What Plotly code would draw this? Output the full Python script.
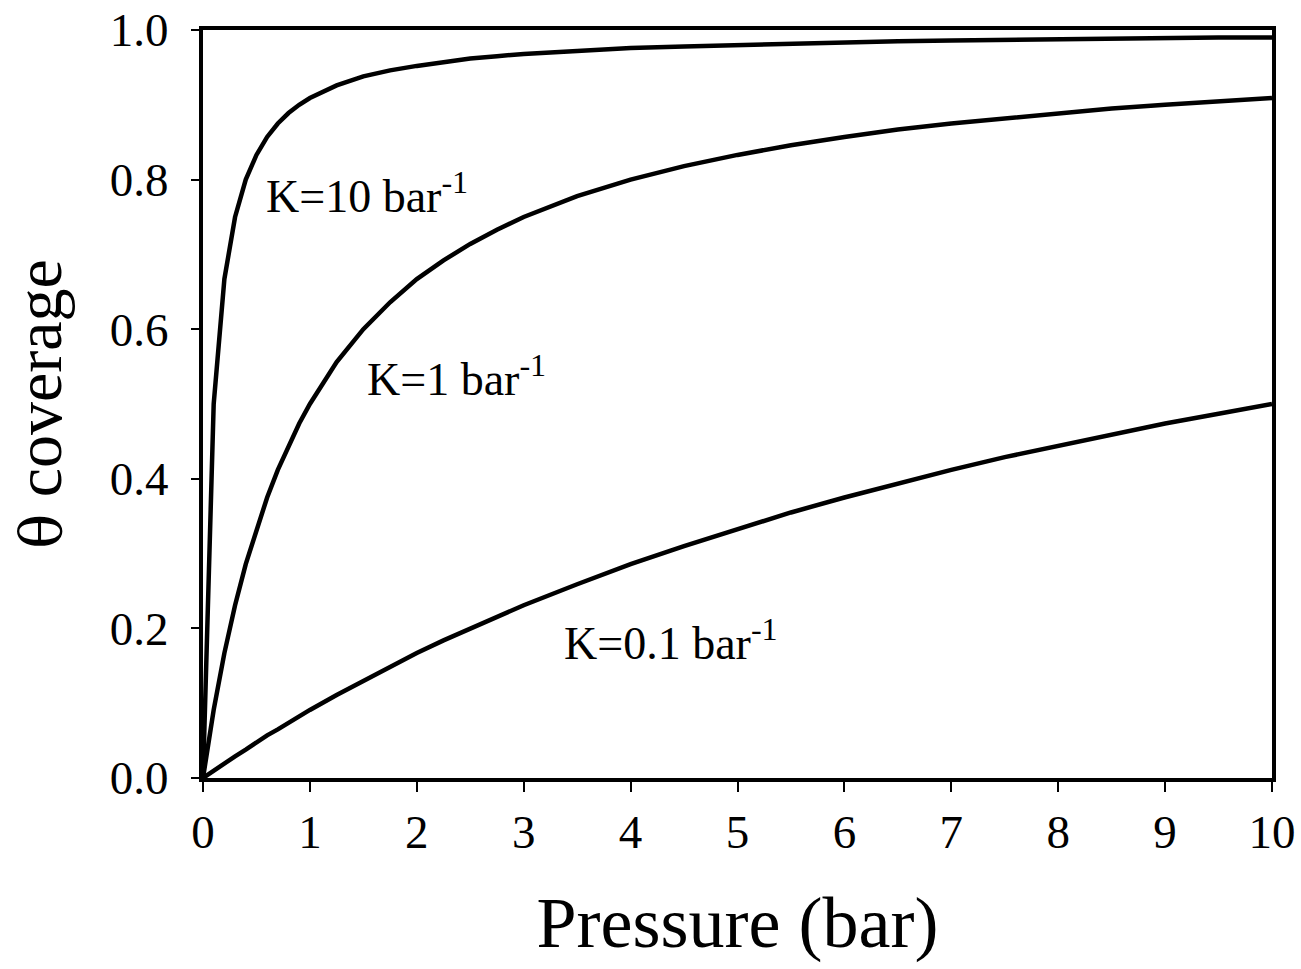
import plotly.graph_objects as go

# Pressure (bar) sample points
pressure = [0, 0.1, 0.2, 0.3, 0.4, 0.5, 0.6, 0.7, 0.8, 0.9, 1.0,
            1.25, 1.5, 1.75, 2.0, 2.25, 2.5, 2.75, 3.0,
            3.5, 4.0, 4.5, 5.0, 5.5, 6.0, 6.5, 7.0, 7.5, 8.0, 8.5, 9.0, 9.5, 10.0]

# Coverage values
theta_k10 = [0, 0.500, 0.667, 0.750, 0.800, 0.833, 0.857, 0.875, 0.889, 0.900, 0.909,
             0.926, 0.938, 0.946, 0.952, 0.957, 0.962, 0.965, 0.968,
             0.972, 0.976, 0.978, 0.980, 0.982, 0.984, 0.985, 0.986, 0.987, 0.988, 0.988, 0.989, 0.990, 0.990]
theta_k1 = [0, 0.091, 0.167, 0.231, 0.286, 0.333, 0.375, 0.412, 0.444, 0.474, 0.500,
            0.556, 0.600, 0.636, 0.667, 0.692, 0.714, 0.733, 0.750,
            0.778, 0.800, 0.818, 0.833, 0.846, 0.857, 0.867, 0.875, 0.882, 0.889, 0.895, 0.900, 0.905, 0.909]
theta_k01 = [0, 0.010, 0.020, 0.029, 0.038, 0.048, 0.057, 0.065, 0.074, 0.083, 0.091,
             0.111, 0.130, 0.149, 0.167, 0.184, 0.200, 0.216, 0.231,
             0.259, 0.286, 0.310, 0.333, 0.355, 0.375, 0.394, 0.412, 0.429, 0.444, 0.459, 0.474, 0.487, 0.500]

labels = ["K=10 bar<sup>-1</sup>", "K=1 bar<sup>-1</sup>", "K=0.1 bar<sup>-1</sup>"]
label_x = [0.57, 1.52, 3.36]
label_y = [0.782, 0.537, 0.184]

x_ticks = [0, 1, 2, 3, 4, 5, 6, 7, 8, 9, 10]
y_ticks = [0.0, 0.2, 0.4, 0.6, 0.8, 1.0]
y_ticktext = ["0.0", "0.2", "0.4", "0.6", "0.8", "1.0"]

FONT = "Liberation Serif"

fig = go.Figure()
for name, ys in zip(["K=10", "K=1", "K=0.1"], [theta_k10, theta_k1, theta_k01]):
    fig.add_trace(go.Scatter(x=pressure, y=ys, mode="lines", name=name,
                             line=dict(color="black", width=4.5), showlegend=False))

for t, xx, yy in zip(labels, label_x, label_y):
    fig.add_annotation(x=xx, y=yy, text=t, showarrow=False, xanchor="left", yanchor="middle",
                       font=dict(family=FONT, size=46, color="black"))

fig.update_layout(
    width=1301, height=969,
    margin=dict(l=203, r=29, t=30, b=191),
    plot_bgcolor="white", paper_bgcolor="white",
    font=dict(family=FONT, color="black"),
)
fig.update_xaxes(range=[0, 10], tickvals=x_ticks, ticks="outside", ticklen=10, tickwidth=2,
                 tickcolor="black", showline=True, linecolor="black", linewidth=4, mirror=True,
                 showgrid=False, zeroline=False, tickfont=dict(family=FONT, size=47),
                 automargin=False,
                 title=dict(text="Pressure (bar)", font=dict(family=FONT, size=72), standoff=40))
fig.update_yaxes(range=[0, 1.0], tickvals=y_ticks, ticktext=y_ticktext, ticks="outside", ticklen=8,
                 tickwidth=2, tickcolor="black", showline=True, linecolor="black", linewidth=4,
                 mirror=True, showgrid=False, zeroline=False, tickfont=dict(family=FONT, size=47),
                 ticklabelstandoff=13, automargin=False,
                 title=dict(text="<span style='font-family:DejaVu Serif;font-size:58px'>θ</span> coverage\u00a0\u00a0",
                            font=dict(family=FONT, size=66), standoff=28))

fig.write_html("out.html", config={"displayModeBar": False},
               post_script="document.body.style.margin='0';document.body.style.padding='0';")
